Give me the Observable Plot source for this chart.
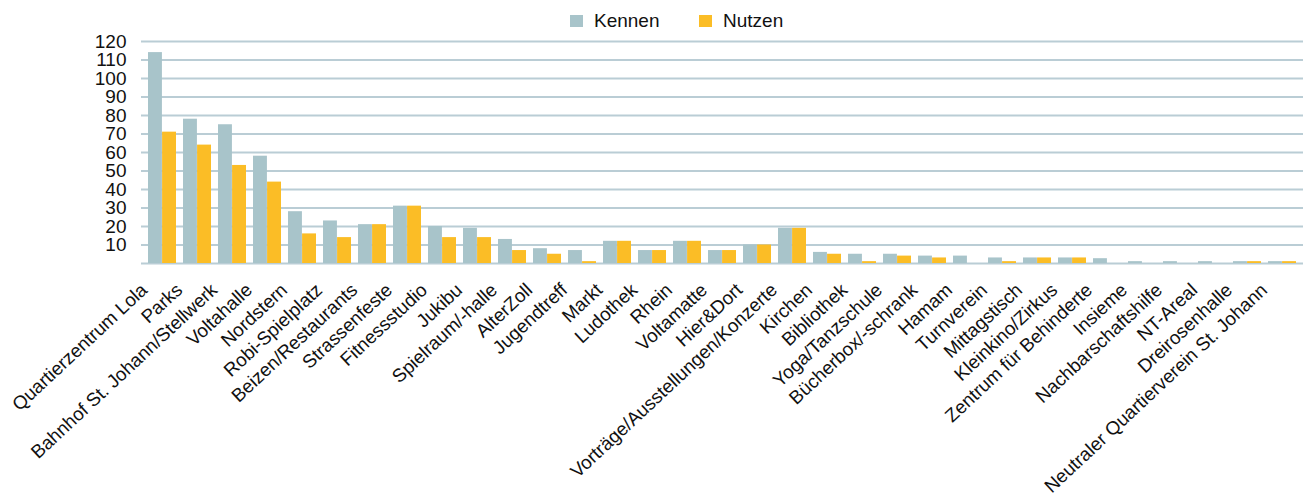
<!DOCTYPE html>
<html>
<head>
<meta charset="utf-8">
<script src="https://cdn.jsdelivr.net/npm/d3@7"></script>
<script src="https://cdn.jsdelivr.net/npm/@observablehq/plot@0.6"></script>
<style>
  html, body { margin: 0; padding: 0; background: #fff; }
  body { font-family: "Liberation Sans", Arial, sans-serif; width: 1303px; }
  #legend { position: relative; height: 26px; font-size: 19px; color: #111; }
  #legend .item { position: absolute; top: 14px; display: flex; align-items: center; line-height: 14px; height: 14px; }
  #legend .sw { display: inline-block; width: 13px; height: 12px; margin-right: 11px; }
</style>
</head>
<body>
<div id="legend"></div>
<div id="chart"></div>
<script>
const categories = [
  "Quartierzentrum Lola", "Parks", "Bahnhof St. Johann/Stellwerk", "Voltahalle", "Nordstern",
  "Robi-Spielplatz", "Beizen/Restaurants", "Strassenfeste", "Fitnessstudio", "Jukibu",
  "Spielraum/-halle", "AlterZoll", "Jugendtreff", "Markt", "Ludothek", "Rhein", "Voltamatte",
  "Hier&Dort", "Vorträge/Ausstellungen/Konzerte", "Kirchen", "Bibliothek", "Yoga/Tanzschule",
  "Bücherbox/-schrank", "Hamam", "Turnverein", "Mittagstisch", "Kleinkino/Zirkus",
  "Zentrum für Behinderte", "Insieme", "Nachbarschaftshilfe", "NT-Areal", "Dreirosenhalle",
  "Neutraler Quartierverein St. Johann"
];
const kennen = [114, 78, 75, 58, 28, 23, 21, 31, 20, 19, 13, 8, 7, 12, 7, 12, 7, 10, 19, 6, 5, 5, 4, 4, 3, 3, 3, 2.6, 1, 1, 1, 1, 1];
const nutzen = [71, 64, 53, 44, 16, 14, 21, 31, 14, 14, 7, 5, 1, 12, 7, 12, 7, 10, 19, 5, 1, 4, 3, 0, 1, 3, 3, 0, 0, 0, 0, 1, 1];
const seriesNames = ["Kennen", "Nutzen"];
const seriesColors = ["#a8c4ca", "#fbbd26"];
const yTickValues = [10, 20, 30, 40, 50, 60, 70, 80, 90, 100, 110, 120];
const gridValues = [0, 10, 20, 30, 40, 50, 60, 70, 80, 90, 100, 110, 120];
const yDomain = [0, 120];

// long-format table built from the arrays
const table = categories.flatMap((c, i) => [
  {category: c, series: seriesNames[0], value: kennen[i]},
  {category: c, series: seriesNames[1], value: nutzen[i]}
]);

// legend (HTML, above the SVG)
const legend = document.getElementById("legend");
const legendLeft = [570, 699];
seriesNames.forEach((name, i) => {
  const item = document.createElement("div");
  item.className = "item";
  item.style.left = legendLeft[i] + "px";
  const sw = document.createElement("span");
  sw.className = "sw";
  sw.style.background = seriesColors[i];
  const t = document.createElement("span");
  t.textContent = name;
  item.appendChild(sw);
  item.appendChild(t);
  legend.appendChild(item);
});

const W = 1303, H = 472;
const mL = 141, mR = 0, mT = 15, mB = 235;
const padInner = 0.2, padOuter = 0.1;
const step = (W - mL - mR) / (categories.length - padInner + 2 * padOuter);
const bw = step * (1 - padInner);

const chart = Plot.plot({
  width: W,
  height: H,
  marginLeft: mL,
  marginRight: mR,
  marginTop: mT,
  marginBottom: mB,
  style: {fontFamily: "'Liberation Sans', Arial, sans-serif", fontSize: "19px", color: "#111", background: "#fff"},
  x: {domain: categories, paddingInner: padInner, paddingOuter: padOuter, label: null},
  y: {domain: yDomain, label: null},
  color: {domain: seriesNames, range: seriesColors},
  marks: [
    Plot.ruleY(gridValues, {stroke: "#bacdd5", strokeWidth: 1.8}),
    Plot.barY(table.filter(d => d.series === seriesNames[0]), {x: "category", y: "value", fill: "series", insetRight: bw / 2}),
    Plot.barY(table.filter(d => d.series === seriesNames[1]), {x: "category", y: "value", fill: "series", insetLeft: bw / 2}),
    Plot.axisY({ticks: yTickValues, tickSize: 0, tickPadding: 15, fontSize: 19, label: null}),
    Plot.axisX({tickRotate: -43, tickSize: 0, tickPadding: 0, textAnchor: "end", lineAnchor: "bottom", dx: -14, dy: 28, fontSize: 18.8, label: null})
  ]
});
document.getElementById("chart").appendChild(chart);
</script>
</body>
</html>
